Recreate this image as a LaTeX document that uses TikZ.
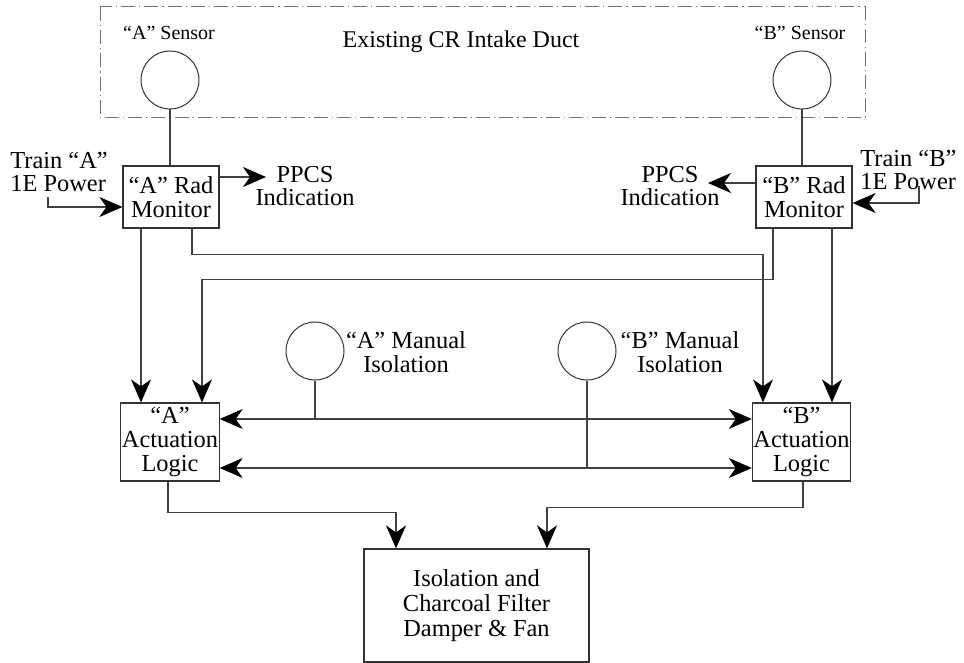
\documentclass[tikz,border=0pt]{standalone}
\usepackage{fontspec}
\setmainfont{Liberation Serif}
\usetikzlibrary{arrows.meta}
\begin{document}
\begin{tikzpicture}[x=0.5pt,y=-0.5pt]
  \tikzstyle{box}=[draw=black!80, line width=0.6pt, align=center, inner sep=0.5pt, font=\fontsize{12.2}{12.2}\selectfont]
  \tikzstyle{ring}=[draw=black!80, circle, line width=0.5pt, minimum size=29pt, inner sep=0pt]
  \tikzstyle{txt}=[align=center, inner sep=0pt, font=\fontsize{12.2}{11.8}\selectfont]
  \tikzstyle{wire}=[draw=black!75, line width=0.6pt]
  \tikzstyle{sig}=[wire, -{Stealth[length=11.5pt,width=10pt,inset=3.5pt,black]}]
  \tikzstyle{both}=[wire, {Stealth[length=11.5pt,width=10pt,inset=3.5pt,black]}-{Stealth[length=11.5pt,width=10pt,inset=3.5pt,black]}]
  \useasboundingbox (0,0) rectangle (964,663);
  % intake duct
  \draw[black!55, line width=0.5pt, dash pattern=on 7pt off 2pt on 0.6pt off 2pt] (100,7) rectangle (865,118);
  \node[txt, font=\fontsize{12}{14}\selectfont] (duct) at (461,42) {Existing CR Intake Duct};
  \node[txt, font=\fontsize{10}{12}\selectfont] (sAlbl) at (169,33) {“A” Sensor};
  \node[txt, font=\fontsize{10}{12}\selectfont] (sBlbl) at (800,33) {“B” Sensor};
  \node[ring] (sA) at (170,80) {};
  \node[ring] (sB) at (802,80) {};
  % monitors
  \node[box, minimum width=48pt, minimum height=31pt] (monA) at (171,197) {“A” Rad\\Monitor};
  \node[box, minimum width=48pt, minimum height=31pt] (monB) at (804,197) {“B” Rad\\Monitor};
  \node[txt, align=left, anchor=west] (pwrA) at (10,172) {Train “A”\\1E Power};
  \node[txt, align=left, anchor=west] (pwrB) at (860,170) {Train “B”\\1E Power};
  \node[txt] (ppcsA) at (305,186) {PPCS\\Indication};
  \node[txt] (ppcsB) at (670,186) {PPCS\\Indication};
  \coordinate (pA) at (48,197);
  \coordinate (pB) at (919,186);
  \coordinate (iA) at (266,177);
  \coordinate (iB) at (708,183);
  % manual isolation
  \node[ring] (manA) at (315,351) {};
  \node[ring] (manB) at (587,351) {};
  \node[txt] (manAlbl) at (406,352) {“A” Manual\\Isolation};
  \node[txt] (manBlbl) at (680,352) {“B” Manual\\Isolation};
  % logic and final element
  \node[box, minimum width=48pt, minimum height=39pt] (logA) at (170,442) {“A”\\Actuation\\Logic};
  \node[box, minimum width=48pt, minimum height=39pt] (logB) at (801.5,442) {“B”\\Actuation\\Logic};
  \node[box, minimum width=112.5pt, minimum height=56.5pt, font=\fontsize{12.2}{12.6}\selectfont] (iso) at (476.5,605.5) {Isolation and\\Charcoal Filter\\Damper \& Fan};

  \draw[wire] (sA.south) -- (sA.south |- monA.north);
  \draw[wire] (sB.south) -- (sB.south |- monB.north);
  \draw[sig] (pA) |- ([yshift=-5pt]monA.west);
  \draw[sig] (pB) |- ([yshift=-3pt]monB.east);
  \draw[sig] ([yshift=10pt]monA.east) -- (iA);
  \draw[sig] ([yshift=7pt]monB.west) -- (iB);

  \draw[sig] ([xshift=-15pt]monA.south) -- ([xshift=-14.5pt]logA.north);
  \draw[sig] ([xshift=10.5pt]monA.south) -- ++(0,-13pt) -| ([xshift=-19.25pt]logB.north);
  \draw[sig] ([xshift=-15.5pt]monB.south) -- ++(0,-25.5pt) -| ([xshift=16pt]logA.north);
  \draw[sig] ([xshift=14pt]monB.south) -- ([xshift=15.25pt]logB.north);

  \draw[both] ([yshift=11.5pt]logA.east) coordinate (hA) -- ([yshift=11.5pt]logB.west);
  \draw[both] ([yshift=-13pt]logA.east) coordinate (hB) -- ([yshift=-13pt]logB.west);
  \draw[wire] (manA.south) -- (manA.south |- hA);
  \draw[wire] (manB.south) -- (manB.south |- hB);

  \draw[sig] ([xshift=-1pt]logA.south) -- ++(0,-15.5pt) -| ([xshift=-40.25pt]iso.north);
  \draw[sig] ([xshift=0.75pt]logB.south) -- ++(0,-13pt) -| ([xshift=35.25pt]iso.north);
\end{tikzpicture}
\end{document}
